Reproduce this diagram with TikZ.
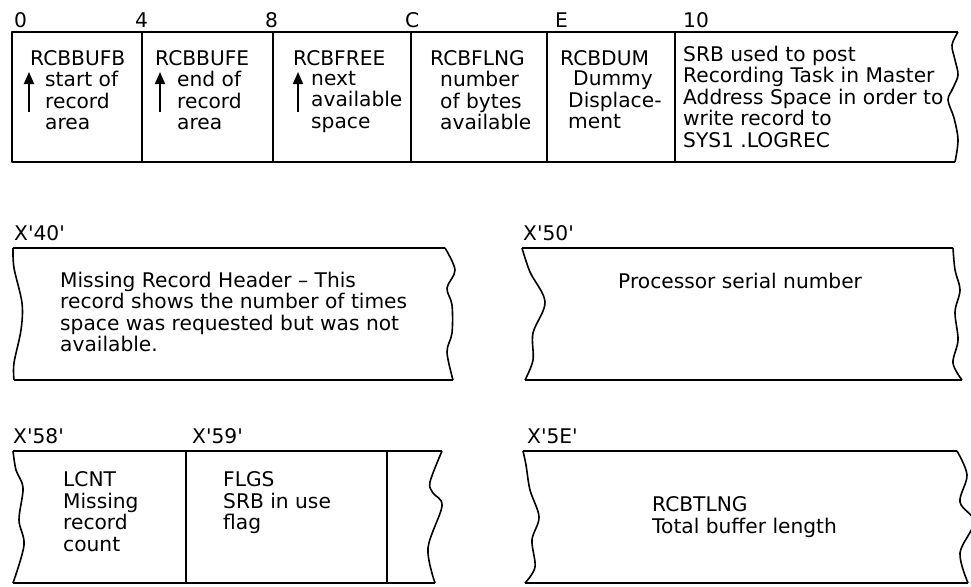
\documentclass[tikz,border=0pt]{standalone}
\usepackage{fontspec}
\newfontfamily\figfont{DejaVu Sans}
\usetikzlibrary{arrows.meta,positioning}
\begin{document}
\begin{tikzpicture}[
    x=1pt, y=-1pt,
    every node/.style={font=\figfont\fontsize{20.2}{21.5}\selectfont, inner sep=0pt},
    txt/.style={anchor=north west, align=left, yshift=15.5pt,
        execute at begin node={\rule{0pt}{15.5pt}}},
    edge/.style={line width=1.6pt, line join=round},
    wavy/.style={edge, smooth, tension=0.55},
    ptr/.style={-{Triangle[width=10pt,length=12pt]}, line width=1.8pt}
]
\useasboundingbox (0,0) rectangle (971,586);

% Offsets oben
\node[txt] (o0)  at (14,27)  {0};
\node[txt] (o4)  at (135,27) {4};
\node[txt] (o8)  at (265,27) {8};
\node[txt] (oC)  at (405,27) {C};
\node[txt] (oE)  at (555,27) {E};
\node[txt] (o10) at (683,27) {10};

% Kopfzeile
\draw[edge] (958,32) -- (12,32) -- (12,162) -- (955,162);
\draw[wavy] plot coordinates {(958,32) (952,45) (955,60) (958,75) (953,88) (948,100) (954,118) (958,140) (955,162)};
\foreach \xx in {142,273,411,547,675}
    \draw[edge] (\xx,32) -- (\xx,162);

% Felder
\node[txt] (bufb) at (30,65)  {RCBBUFB};
\node[txt] (bufbd) at (45,86.5) {start of\\record\\area};
\node[txt] (bufe) at (155,65) {RCBBUFE};
\node[txt] (bufed) at (177,86.5) {end of\\record\\area};
\node[txt] (free) at (293,65) {RCBFREE};
\node[txt] (freed) at (311,86.5) {next\\available\\space};
\node[txt] (flng) at (430,65) {RCBFLNG};
\node[txt] (flngd) at (440,86.5) {number\\of bytes\\available};
\node[txt] (dum)  at (560,65) {RCBDUM};
\node[txt] (dumd) at (568,86.5) {\hspace*{5pt}Dummy\\Displace-\\ment};
\node[txt] (srb)  at (683,61) {SRB used to post\\Recording Task in Master\\Address Space in order to\\write record to\\SYS1 .LOGREC};

% Zeiger
\foreach \nm/\xx in {pa/29,pb/160,pc/298} {
    \coordinate (\nm s) at (\xx,112);
    \coordinate (\nm t) at (\xx,72);
    \draw[ptr] (\nm s) -- (\nm t);
}

% X'40' und X'50'
\node[txt] (o40) at (14,240)  {X'40'};
\node[txt] (o50) at (523,240) {X'50'};
\draw[edge] (13,248) -- (445,248);
\draw[edge] (14,380) -- (453,380);
\draw[wavy] plot coordinates {(13,248) (14,268) (22,303) (21,330) (14,363) (14,380)};
\draw[wavy] plot coordinates {(445,248) (455,270) (447,288) (452,305) (452,333) (447,352) (453,380)};
\node[txt] (hdr) at (60,287) {Missing Record Header \textendash{} This\\record shows the number of times\\space was requested but was not\\available.};

\draw[edge] (522,248) -- (953,248);
\draw[edge] (525,380) -- (962,380);
\draw[wavy] plot coordinates {(522,248) (530,272) (545,302) (533,333) (533,360) (525,380)};
\draw[wavy] plot coordinates {(953,248) (955,270) (960,290) (955,312) (958,340) (953,363) (962,380)};
\node[txt] (proc) at (618,288) {Processor serial number};

% X'58', X'59', X'5E'
\node[txt] (o58) at (13,443)  {X'58'};
\node[txt] (o59) at (192,443) {X'59'};
\node[txt] (o5E) at (527,443) {X'5E'};
\draw[edge] (13,451) -- (442,451);
\draw[edge] (13,583) -- (435,583);
\foreach \xx in {186,387}
    \draw[edge] (\xx,451) -- (\xx,583);
\draw[wavy] plot coordinates {(13,451) (16,470) (23,488) (19,520) (24,545) (13,583)};
\draw[wavy] plot coordinates {(442,451) (430,482) (433,493) (442,506) (428,548) (435,583)};
\node[txt] (lcnt) at (63,487) {LCNT\\Missing\\record\\count};
\node[txt] (flgs) at (223,487) {FLGS\\SRB in use\\flag};

\draw[edge] (523,451) -- (957,451);
\draw[edge] (525,583) -- (968,583);
\draw[wavy] plot coordinates {(523,451) (526,465) (530,490) (539,517) (532,540) (535,567) (525,583)};
\draw[wavy] plot coordinates {(957,451) (967,475) (960,502) (974,522) (960,553) (968,583)};
\node[txt] (tlng) at (652,512) {RCBTLNG\\Total buffer length};

\end{tikzpicture}
\end{document}
